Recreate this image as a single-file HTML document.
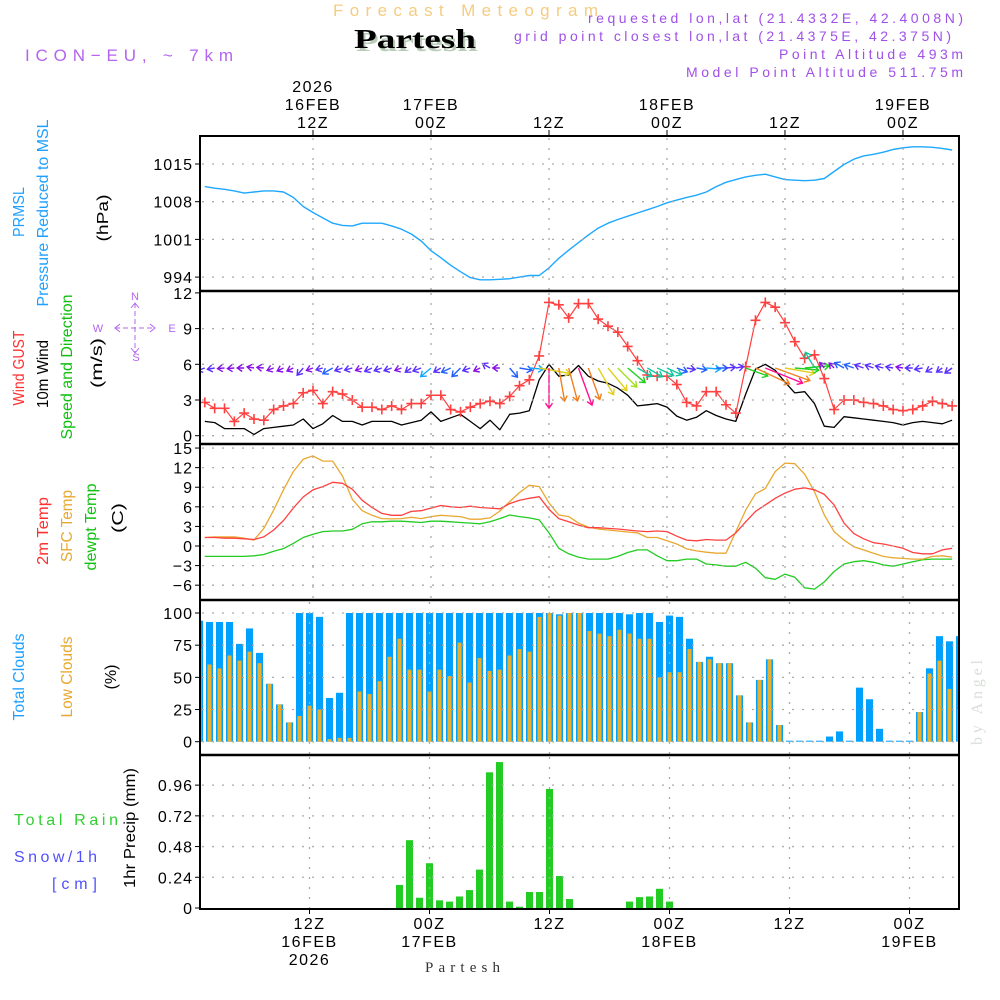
<!DOCTYPE html>
<html><head><meta charset="utf-8"><title>Forecast Meteogram - Partesh</title>
<style>
html,body{margin:0;padding:0;background:#fff;}
svg{display:block;font-family:"Liberation Sans",sans-serif;}
</style></head>
<body>
<svg id="chart" width="1000" height="1000" viewBox="0 0 1000 1000" xmlns="http://www.w3.org/2000/svg">
<rect x="0" y="0" width="1000" height="1000" fill="#fff"/>
<defs><clipPath id="plotclip"><rect x="201" y="136" width="757" height="773"/></clipPath></defs>

<!-- Header texts -->
<text x="333" y="16" font-size="17" fill="#f5cc80" textLength="265" lengthAdjust="spacing">Forecast Meteogram</text>
<text x="356" y="51" font-family="Liberation Serif,serif" font-weight="bold" font-size="27" fill="#b8ccb8" textLength="122" lengthAdjust="spacingAndGlyphs">Partesh</text>
<text x="354" y="48" font-family="Liberation Serif,serif" font-weight="bold" font-size="27" fill="#000" textLength="122" lengthAdjust="spacingAndGlyphs">Partesh</text>
<text x="25" y="61" font-size="17" fill="#b464f0" textLength="208" lengthAdjust="spacing">ICON−EU, ~ 7km</text>
<g font-size="14" fill="#a050e8" text-anchor="end">
<text x="963" y="23" textLength="375" lengthAdjust="spacing">requested lon,lat (21.4332E, 42.4008N)</text>
<text x="951" y="41" textLength="437" lengthAdjust="spacing">grid point closest lon,lat (21.4375E, 42.375N)</text>
<text x="963" y="59" textLength="184" lengthAdjust="spacing">Point Altitude 493m</text>
<text x="963" y="77" textLength="277" lengthAdjust="spacing">Model Point Altitude 511.75m</text>
</g>

<!-- Left rotated labels -->
<g font-size="16">
<text transform="translate(24,212) rotate(-90)" text-anchor="middle" fill="#1ea0ff" textLength="50" lengthAdjust="spacingAndGlyphs">PRMSL</text>
<text transform="translate(48,213) rotate(-90)" text-anchor="middle" fill="#1ea0ff" textLength="187" lengthAdjust="spacingAndGlyphs">Pressure Reduced to MSL</text>
<text transform="translate(108,218) rotate(-90)" text-anchor="middle" fill="#000" textLength="47" lengthAdjust="spacingAndGlyphs">(hPa)</text>
<text transform="translate(24,368) rotate(-90)" text-anchor="middle" fill="#ff3030" textLength="75" lengthAdjust="spacingAndGlyphs">Wind GUST</text>
<text transform="translate(48,374) rotate(-90)" text-anchor="middle" fill="#000" textLength="68" lengthAdjust="spacingAndGlyphs">10m Wind</text>
<text transform="translate(72,367) rotate(-90)" text-anchor="middle" fill="#10c010" textLength="145" lengthAdjust="spacingAndGlyphs">Speed and Direction</text>
<text transform="translate(102,363) rotate(-90)" text-anchor="middle" fill="#000" textLength="50" lengthAdjust="spacingAndGlyphs">(m/s)</text>
<text transform="translate(48,531) rotate(-90)" text-anchor="middle" fill="#ff3030" textLength="68" lengthAdjust="spacingAndGlyphs">2m Temp</text>
<text transform="translate(72,526) rotate(-90)" text-anchor="middle" fill="#e8a830" textLength="72" lengthAdjust="spacingAndGlyphs">SFC Temp</text>
<text transform="translate(96,527) rotate(-90)" text-anchor="middle" fill="#10c010" textLength="87" lengthAdjust="spacingAndGlyphs">dewpt Temp</text>
<text transform="translate(123,518) rotate(-90)" text-anchor="middle" fill="#000" textLength="30" lengthAdjust="spacingAndGlyphs">(C)</text>
<text transform="translate(24,677) rotate(-90)" text-anchor="middle" fill="#1ea0ff" textLength="87" lengthAdjust="spacingAndGlyphs">Total Clouds</text>
<text transform="translate(72,677) rotate(-90)" text-anchor="middle" fill="#e8a830" textLength="81" lengthAdjust="spacingAndGlyphs">Low Clouds</text>
<text transform="translate(116,677) rotate(-90)" text-anchor="middle" fill="#000" textLength="25" lengthAdjust="spacingAndGlyphs">(%)</text>
<text transform="translate(135,828) rotate(-90)" text-anchor="middle" fill="#000" textLength="120" lengthAdjust="spacingAndGlyphs">1hr Precip (mm)</text>
<text x="14" y="825" fill="#30d030" textLength="104" lengthAdjust="spacing">Total  Rain</text>
<text x="14" y="862" fill="#5050ff" textLength="83" lengthAdjust="spacing">Snow/1h</text>
<text x="52" y="889" fill="#5050ff" textLength="45" lengthAdjust="spacing">[cm]</text>
</g>

<!-- compass -->
<g font-size="11" fill="#b464f0" stroke="none">
<text x="135" y="300" text-anchor="middle">N</text>
<text x="98" y="332" text-anchor="middle">W</text>
<text x="172" y="332" text-anchor="middle">E</text>
<text x="136" y="361" text-anchor="middle">S</text>
<g stroke="#b464f0" stroke-width="1" fill="none">
<line x1="115" y1="328" x2="155" y2="328" stroke-dasharray="5,3"/>
<line x1="135" y1="303" x2="135" y2="353" stroke-dasharray="5,3"/>
<polyline points="120,324 115,328 120,332"/>
<polyline points="150,324 155,328 150,332"/>
<polyline points="131,308 135,303 139,308"/>
<polyline points="131,348 135,353 139,348"/>
</g></g>

<text transform="translate(982,745) rotate(-90)" font-family="Liberation Serif,serif" font-size="16" fill="#d8ded8" textLength="85" lengthAdjust="spacing">by Angel</text>
<text x="425" y="972" font-family="Liberation Serif,serif" font-size="15" fill="#333" textLength="75" lengthAdjust="spacing">Partesh</text>

<g id="layer"></g>
</svg>
<script>
// ---- data (hourly, h = hours relative to 12Z 16FEB) ----
const hours = [];
for (let h = -11; h <= 65; h++) hours.push(h);
const pressure = [1010.8,1010.5,1010.3,1010.0,1009.6,1009.8,1010.0,1010.0,1009.8,1008.8,1007.1,
1006.0,1005.0,1004.0,1003.6,1003.5,1004.0,1004.0,1004.0,1003.5,1002.9,1002.0,
1000.7,998.9,997.6,996.2,995.0,993.9,993.5,993.5,993.6,993.7,994.0,
994.3,994.3,995.7,997.5,999.0,1000.4,1001.8,1003.1,1004.0,1004.7,1005.3,
1005.9,1006.5,1007.1,1007.8,1008.3,1008.8,1009.2,1009.8,1010.8,1011.6,1012.1,
1012.6,1012.9,1013.1,1012.6,1012.1,1012.0,1011.9,1012.0,1012.3,1013.6,1014.9,
1015.9,1016.5,1016.8,1017.2,1017.7,1018.0,1018.2,1018.2,1018.1,1017.9,1017.6];
const gust = [2.8,2.3,2.3,1.2,1.9,1.4,1.3,2.2,2.5,2.7,3.6,
3.8,2.7,3.7,3.5,3.0,2.4,2.4,2.2,2.5,2.2,2.7,
2.7,3.4,3.4,2.2,2.0,2.4,2.7,2.9,2.7,3.3,4.2,
4.7,6.7,11.2,11.0,9.9,11.1,11.1,9.8,9.2,8.7,7.5,
6.3,5.1,5.0,5.0,4.3,2.8,2.5,3.7,3.7,2.6,1.9,
5.8,9.7,11.2,10.8,9.5,7.9,6.5,6.8,4.8,2.2,3.0,
3.0,2.8,2.7,2.5,2.2,2.1,2.2,2.5,2.9,2.7,2.5];
const wind = [1.2,1.1,0.6,0.6,0.6,0.1,0.6,0.7,0.8,0.9,1.4,
0.6,1.0,1.7,1.2,1.2,0.9,1.2,1.2,1.2,0.9,1.1,
1.3,2.0,1.2,1.5,1.8,1.2,0.6,1.3,0.5,1.8,1.9,
2.1,4.7,6.0,5.0,5.1,5.9,5.0,4.6,4.4,4.0,3.4,
2.5,2.6,2.7,2.4,1.65,1.3,1.55,2.1,1.7,1.4,1.2,
3.5,5.6,6.0,5.5,4.5,3.6,3.7,2.7,0.8,0.7,1.6,
1.5,1.4,1.3,1.2,1.1,0.9,1.1,1.2,1.1,1.0,1.3];
const windDirTo = [250,260,265,265,270,280,275,250,245,245,220,
250,255,240,250,255,250,245,250,250,250,235,
250,230,240,245,225,250,245,300,270,140,100,
95,100,180,170,165,160,160,150,140,135,130,
120,120,115,115,110,100,100,95,90,85,80,
110,115,112,110,100,95,85,330,320,315,300,
290,290,290,285,280,280,270,260,240,235,235];
const temp2m = [1.3,1.3,1.2,1.2,1.1,1.0,1.4,2.45,3.9,5.8,7.5,
8.6,9.1,9.75,9.6,8.7,7.0,5.9,5.0,4.7,4.7,5.3,
5.4,5.8,6.2,6.0,5.9,6.1,5.9,5.8,5.7,6.5,7.0,
7.3,7.55,5.6,4.2,3.7,3.2,2.8,2.8,2.7,2.6,2.45,
2.3,2.2,2.3,2.2,1.5,0.9,0.8,1.0,0.9,0.9,2.0,
3.7,5.3,6.3,7.3,8.1,8.7,8.9,8.6,7.9,6.3,3.5,
1.9,1.1,0.5,0.3,0.0,-0.35,-1.0,-1.2,-1.2,-0.6,-0.35];
const tempSfc = [1.3,1.4,1.4,1.4,1.2,0.9,2.7,5.5,8.6,11.4,13.3,
13.8,13.0,13.0,10.7,7.15,5.4,4.7,4.2,4.15,4.2,4.4,
4.2,4.5,4.7,4.6,4.5,4.1,4.1,4.3,5.35,6.8,8.2,
9.3,9.1,6.6,4.75,4.5,3.5,2.9,2.6,2.45,2.3,2.15,
2.0,1.3,1.3,0.8,0.3,-0.45,-0.75,-0.95,-1.1,-1.1,2.2,
5.5,8.0,8.8,11.4,12.7,12.6,11.0,8.3,4.75,2.2,0.9,
-0.1,-0.6,-1.1,-1.6,-1.8,-1.9,-2.0,-2.0,-1.6,-1.5,-1.7];
const dewpt = [-1.6,-1.6,-1.6,-1.6,-1.6,-1.5,-1.3,-0.8,-0.4,0.4,1.3,
1.8,2.2,2.3,2.3,2.55,3.4,3.7,3.7,3.8,3.8,3.7,
3.6,3.8,3.8,3.7,3.6,3.5,3.4,3.7,4.2,4.75,4.5,
4.3,4.0,2.0,-0.35,-1.2,-1.7,-2.0,-2.0,-2.0,-1.6,-1.0,
-0.6,-0.6,-1.5,-2.25,-2.25,-2.0,-2.0,-2.75,-2.9,-3.1,-3.1,
-2.5,-3.4,-4.85,-5.1,-4.3,-4.8,-6.4,-6.6,-5.5,-3.9,-2.75,
-2.4,-2.25,-2.5,-2.9,-3.1,-2.75,-2.4,-2.1,-2.0,-2.0,-2.0];
const totalClouds = [94,93,93,93,76,88,69,45,29,15,100,
100,97,34,38,100,100,100,100,100,100,100,
100,100,100,100,100,100,100,100,100,100,100,
100,100,100,99,100,100,100,100,100,100,99,
100,100,93,98,97,80,62,66,61,61,36,
15,48,64,13,0,0,0,0,4,8,0,
42,33,10,0,0,0,23,57,82,78,82];
const lowClouds = [72,60,57,67,63,70,61,45,29,15,20,
28,25,2,3,3,39,37,47,66,80,56,
56,39,56,51,77,46,65,55,56,67,72,
70,97,100,98,100,100,86,84,82,87,84,
80,80,50,54,54,72,62,64,61,61,36,
15,48,64,13,0,0,0,0,0,0,0,
0,0,0,0,0,0,23,53,63,41,25];
const precip = [0,0,0,0,0,0,0,0,0,0,0,
0,0,0,0,0,0,0,0,0,0.18,0.53,
0.08,0.35,0.06,0.05,0.09,0.14,0.30,1.06,1.14,0.05,0.01,
0.125,0.125,0.93,0.25,0.07,0,0,0,0,0,0.05,
0.085,0.09,0.15,0.05,0,0,0,0,0,0,0,
0,0,0,0,0,0,0,0,0,0,0,
0,0,0,0,0,0,0,0,0,0,0];
const pTicks = [1015,1008,1001,994];
const wTicks = [0,3,6,9,12];
const tTicks = [15,12,9,6,3,0,-3,-6];
const cTicks = [0,25,50,75,100];
const rTicks = [0,0.24,0.48,0.72,0.96];
const rTickLabels = ["0","0.24","0.48","0.72","0.96"];
const mainHours = [0,12,24,36,48,60];
const topLabels = [["2026","16FEB","12Z"],["","17FEB","00Z"],["","","12Z"],["","18FEB","00Z"],["","","12Z"],["","19FEB","00Z"]];
const bottomLabels = [["12Z","16FEB","2026"],["00Z","17FEB",""],["12Z","",""],["00Z","18FEB",""],["12Z","",""],["00Z","19FEB",""]];

// ---- scales ----
const xa = h => 313 + h * 9.833;
const xb = h => 309.5 + h * 10;
const yP = v => 164 + (1015 - v) * 37.7 / 7;
const yW = v => 435.7 - v * 11.9;
const yT = v => 546 - v * 6.53;
const yC = v => 741.7 - v * 1.287;
const yR = v => 908 - v * 128;
const panels = [
 {name:'pressure', top:136, bot:291, x:xa, y:yP, ticks:pTicks, labels:pTicks.map(String)},
 {name:'wind', top:291, bot:444, x:xa, y:yW, ticks:wTicks, labels:wTicks.map(String)},
 {name:'temperature', top:444, bot:600, x:xa, y:yT, ticks:tTicks, labels:tTicks.map(v=>v<0?'−'+(-v):String(v))},
 {name:'clouds', top:600, bot:755, x:xb, y:yC, ticks:cTicks, labels:cTicks.map(String)},
 {name:'precip', top:755, bot:909, x:xb, y:yR, ticks:rTicks, labels:rTickLabels}
];

const NS = 'http://www.w3.org/2000/svg';
const layer = document.getElementById('layer');
function mk(tag, attrs, parent) {
  const e = document.createElementNS(NS, tag);
  for (const k in attrs) e.setAttribute(k, attrs[k]);
  (parent || layer).appendChild(e);
  return e;
}
const clipG = mk('g', {'clip-path':'url(#plotclip)'});



// grids + y ticks
panels.forEach(p => {
  const g = mk('g', {});
  
  
  p.ticks.forEach((t, i) => {
    const y = p.y(t);
    if (y > p.top + 2 && y < p.bot - 1) {
      const gl = mk('line', {x1:202, x2:958, y1:y, y2:y, stroke:'#aaa', 'stroke-width':1.3, 'stroke-dasharray':'2,8'}, g);
      
      
    }
    mk('line', {x1:195, x2:200, y1:y, y2:y, stroke:'#000', 'stroke-width':1}, g);
    const tx = mk('text', {x:193, y:y + 6, 'text-anchor':'end', 'font-size':16, 'letter-spacing':'1', fill:'#000'}, g);
    tx.textContent = p.labels[i];
    
    
  });
  mainHours.forEach(h => {
    const x = p.x(h);
    mk('line', {x1:x, x2:x, y1:p.top + 2, y2:p.bot - 1, stroke:'#aaa', 'stroke-width':1.3, 'stroke-dasharray':'2,8'}, g);
  });
});

// cloud bars
hours.forEach((h, i) => {
  const x = xb(h);
  const t = mk('rect', {x:x - 3.5, y:yC(totalClouds[i]) - (totalClouds[i] === 0 ? 1 : 0), width:7, height:Math.max(1, yC(0) - yC(totalClouds[i])), fill:'#00a0ff'}, clipG);
  
  
  if (lowClouds[i] > 0) {
    const l = mk('rect', {x:x - 2, y:yC(lowClouds[i]), width:4, height:yC(0) - yC(lowClouds[i]), fill:'#e8b030'}, clipG);
    
    
  }
});
// precip bars
hours.forEach((h, i) => {
  if (precip[i] <= 0) return;
  const x = xb(h);
  const b = mk('rect', {x:x - 3.5, y:yR(precip[i]), width:7, height:yR(0) - yR(precip[i]), fill:'#22cc22'}, clipG);
  
  
});

function line(vals, xs, ys, color, w, name) {
  const pts = hours.map((h, i) => xs(h).toFixed(1) + ',' + ys(vals[i]).toFixed(1)).join(' ');
  const pl = mk('polyline', {points:pts, fill:'none', stroke:color, 'stroke-width':w, 'stroke-linejoin':'round'}, clipG);
  
  
  return pl;
}
line(pressure, xa, yP, '#1ea8ff', 1.4, 'pressure-line');
line(wind, xa, yW, '#000', 1.3, 'wind-speed-line');
line(gust, xa, yW, '#ff4040', 1.2, 'wind-gust-line');
hours.forEach((h, i) => {
  const x = xa(h), y = yW(gust[i]);
  const m = mk('path', {d:`M${x-5},${y}H${x+5}M${x},${y-5}V${y+5}`, stroke:'#ff4040', 'stroke-width':1.6}, clipG);
  
  
});
line(dewpt, xa, yT, '#22cc22', 1.3, 'dewpoint-line');
line(tempSfc, xa, yT, '#e8a830', 1.3, 'sfc-temp-line');
line(temp2m, xa, yT, '#ff4040', 1.3, 'temp-2m-line');

// wind arrows
function windColor(s) {
  if (s < 1) return '#8a10e8';
  if (s < 1.5) return '#5a30ff';
  if (s < 2) return '#2060ff';
  if (s < 2.4) return '#10a8ff';
  if (s < 3) return '#10c8a0';
  if (s < 3.8) return '#20d020';
  if (s < 4.3) return '#a0e020';
  if (s < 4.8) return '#e0d020';
  if (s < 5.8) return '#f08020';
  return '#ff1090';
}
hours.forEach((h, i) => {
  const s = wind[i];
  const L = Math.max(7, s * 6.7);
  const a = windDirTo[i] * Math.PI / 180;
  const x0 = xa(h), y0 = 368;
  const x1 = x0 + Math.sin(a) * L, y1 = y0 - Math.cos(a) * L;
  const ux = Math.sin(a), uy = -Math.cos(a);
  const hl = 5, hw = 3.5;
  const bx = x1 - ux * hl, by = y1 - uy * hl;
  const c = windColor(s);
  const g = mk('path', {d:`M${x0.toFixed(1)},${y0}L${x1.toFixed(1)},${y1.toFixed(1)}M${(bx - uy*hw).toFixed(1)},${(by + ux*hw).toFixed(1)}L${x1.toFixed(1)},${y1.toFixed(1)}L${(bx + uy*hw).toFixed(1)},${(by - ux*hw).toFixed(1)}`, stroke:c, 'stroke-width':1.4, fill:'none'}, clipG);
  
  
});

// frame
const fr = mk('rect', {x:200, y:136, width:759, height:773, fill:'none', stroke:'#000', 'stroke-width':2});


[291, 444, 600, 755].forEach(y => {
  const s = mk('line', {x1:200, x2:959, y1:y, y2:y, stroke:'#000', 'stroke-width':2.5});
  
  
});

// time axes
mainHours.forEach((h, k) => {
  const x = xa(h);
  mk('line', {x1:x, x2:x, y1:130, y2:136, stroke:'#000', 'stroke-width':1});
  topLabels[k].forEach((s, j) => {
    if (!s) return;
    const t = mk('text', {x:x, y:92 + j * 18, 'text-anchor':'middle', 'font-size':16, 'letter-spacing':'1.5', fill:'#000'});
    t.textContent = s;
    
    
  });
  const xB = xb(h);
  mk('line', {x1:xB, x2:xB, y1:909, y2:914, stroke:'#000', 'stroke-width':1});
  bottomLabels[k].forEach((s, j) => {
    if (!s) return;
    const t = mk('text', {x:xB, y:929 + j * 18, 'text-anchor':'middle', 'font-size':16, 'letter-spacing':'1.5', fill:'#000'});
    t.textContent = s;
    
    
  });
});
</script>
</body></html>
